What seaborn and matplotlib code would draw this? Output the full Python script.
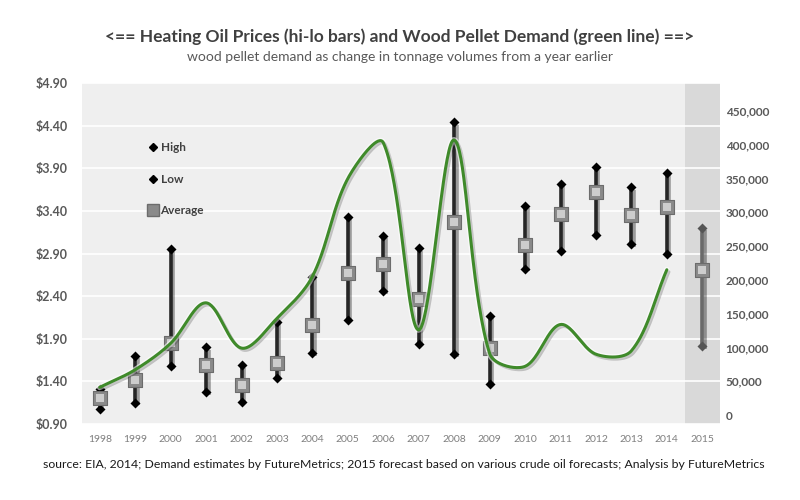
import numpy as np
import pandas as pd
import matplotlib
matplotlib.use("Agg")
import matplotlib.pyplot as plt
import matplotlib.patheffects as pe
from matplotlib.lines import Line2D
from matplotlib.ticker import FuncFormatter, FixedLocator
import seaborn as sns

# ---------------- data ----------------
years = [str(y) for y in range(1998, 2016)]
price_high = [1.31, 1.70, 2.95, 1.80, 1.59, 2.10, 2.63, 3.33, 3.11, 2.96,
              4.44, 2.17, 3.46, 3.72, 3.91, 3.68, 3.85, 3.20]
price_low = [1.08, 1.15, 1.58, 1.27, 1.16, 1.44, 1.73, 2.12, 2.46, 1.84,
             1.72, 1.37, 2.72, 2.93, 3.12, 3.01, 2.89, 1.81]
price_avg = [1.20, 1.42, 1.85, 1.59, 1.36, 1.62, 2.06, 2.67, 2.78, 2.37,
             3.27, 1.79, 3.00, 3.36, 3.62, 3.35, 3.44, 2.71]
demand_years = years[:17]
demand = [41000, 67000, 106000, 166000, 99000, 143000, 205000, 350000,
          403000, 126000, 407000, 91000, 72000, 134000, 90000, 95000, 215000]
left_ticks = [0.90, 1.40, 1.90, 2.40, 2.90, 3.40, 3.90, 4.40, 4.90]
right_ticks = [0, 50000, 100000, 150000, 200000, 250000, 300000, 350000,
               400000, 450000]
forecast_year = "2015"

title = "<== Heating Oil Prices (hi-lo bars) and Wood Pellet Demand (green line) ==>"
subtitle = "wood pellet demand as change in tonnage volumes from a year earlier"
source = ("source: EIA, 2014; Demand estimates by FutureMetrics; 2015 forecast "
          "based on various crude oil forecasts; Analysis by FutureMetrics")

# ---------------- style ----------------
sns.set_style("white")
plt.rcParams["font.family"] = ["Lato", "DejaVu Sans"]

df = pd.DataFrame({"year": years, "high": price_high, "low": price_low,
                   "avg": price_avg})
df["pos"] = np.arange(len(df))
df["forecast"] = df["year"] == forecast_year
hist = df[~df["forecast"]]
fc = df[df["forecast"]]

dd = pd.DataFrame({"year": demand_years, "demand": demand})
dd["pos"] = [years.index(y) for y in dd["year"]]

fig = plt.figure(figsize=(8, 5), dpi=100)
ax = fig.add_axes([82 / 800, 1 - 424 / 500, (720 - 82) / 800, (424 - 83) / 500])
ax.set_facecolor("#efefef")
ax.set_xlim(-0.5, len(years) - 0.5)
ax.set_ylim(left_ticks[0], left_ticks[-1])
ax.yaxis.set_major_locator(FixedLocator(left_ticks))
ax.yaxis.set_major_formatter(FuncFormatter(lambda v, p: f"${v:.2f}"))
ax.set_xticks(df["pos"])
ax.set_xticklabels(years)
ax.grid(axis="y", color="#ffffff", lw=1.2)
ax.set_axisbelow(True)
for s in ax.spines.values():
    s.set_visible(False)
ax.tick_params(axis="y", length=0, pad=10, labelsize=9, labelcolor="#595959")
ax.tick_params(axis="x", length=0, pad=8, labelsize=7.5, labelcolor="#7f7f7f")
for lab in ax.get_yticklabels():
    lab.set_fontweight("bold")

# forecast band
fpos = fc["pos"].iloc[0]
ax.axvspan(fpos - 0.5, fpos + 0.5, color="#d9d9d9", zorder=0, lw=0)

shadow_line = [pe.SimpleLineShadow(offset=(1.8, -1.8), shadow_color="black", alpha=0.35),
               pe.Normal()]

# hi-lo bars
ax.vlines(hist["pos"], hist["low"], hist["high"], color="#262626", lw=2.6,
          zorder=3, path_effects=shadow_line)
ax.vlines(fc["pos"], fc["low"], fc["high"], color="#6a6a6a", lw=2.6,
          zorder=3, path_effects=shadow_line)

for sub, mcol in [(hist, "#000000"), (fc, "#555555")]:
    for col in ["high", "low"]:
        sns.scatterplot(x=sub["pos"], y=sub[col], marker="D", s=26, color=mcol,
                        edgecolor=mcol, linewidth=0, zorder=4, ax=ax, legend=False)
    sns.scatterplot(x=sub["pos"], y=sub["avg"], marker="s", s=90, color="#8a8a8a",
                    edgecolor="#6c6c6c", linewidth=0.8, zorder=5, ax=ax, legend=False)
    sns.scatterplot(x=sub["pos"], y=sub["avg"], marker="s", s=26, color="#cdcdcd",
                    linewidth=0, zorder=6, ax=ax, legend=False)
ax.set_xlabel("")
ax.set_ylabel("")

# legend
handles = [Line2D([], [], marker="D", ls="", color="black", ms=4.5, label="High"),
           Line2D([], [], marker="D", ls="", color="black", ms=4.5, label="Low"),
           Line2D([], [], marker="s", ls="", color="#8a8a8a", mec="#6c6c6c", ms=8,
                  label="Average")]
leg = ax.legend(handles=handles, loc="upper left", bbox_to_anchor=(0.087, 0.858),
                frameon=False, handlelength=0.8, handletextpad=0.25,
                labelspacing=1.75, prop={"weight": "bold", "size": 8.5})
for t in leg.get_texts():
    t.set_color("#404040")

# right axis: demand
ax2 = ax.twinx()
ax2.set_ylim(-13300, 491400)
ax2.set_xlim(ax.get_xlim())
ax2.yaxis.set_major_locator(FixedLocator(right_ticks))
ax2.yaxis.set_major_formatter(FuncFormatter(lambda v, p: f"{int(v):,}"))
ax2.tick_params(axis="y", length=0, pad=4, labelsize=8.5, labelcolor="#595959")
for lab in ax2.get_yticklabels():
    lab.set_fontweight("bold")
for s in ax2.spines.values():
    s.set_visible(False)
ax2.grid(False)


def smooth_curve(axis, xs, ys, n=40):
    """Excel-like smoothed line: cubic Bezier segments in display space."""
    pts = axis.transData.transform(np.column_stack([xs, ys]))
    m = len(pts)
    out = []
    t = np.linspace(0, 1, n)[:, None]

    def ctrl(i, forward):
        p = pts[i]
        prev = pts[i - 1] if i > 0 else p
        nxt = pts[i + 1] if i + 1 < m else p
        lb = np.linalg.norm(p - prev)
        lf = np.linalg.norm(nxt - p)
        d = nxt - prev
        if forward:
            return p + d * (lf / (lb + lf)) / 3
        return p - d * (lb / (lb + lf)) / 3

    for i in range(m - 1):
        p0, p1 = pts[i], pts[i + 1]
        c0 = ctrl(i, True)
        c1 = ctrl(i + 1, False)
        b = (1 - t) ** 3 * p0 + 3 * (1 - t) ** 2 * t * c0 + 3 * (1 - t) * t ** 2 * c1 + t ** 3 * p1
        out.append(b if i == 0 else b[1:])
    return axis.transData.inverted().transform(np.vstack(out))


curve = smooth_curve(ax2, dd["pos"].to_numpy(float), dd["demand"].to_numpy(float))
cdf = pd.DataFrame({"x": curve[:, 0], "y": curve[:, 1]})
sns.lineplot(data=cdf, x="x", y="y", sort=False, estimator=None, color="#3f8a2a",
             lw=2.2, ax=ax2, zorder=5,
             path_effects=[pe.Stroke(linewidth=4.2, foreground="#ffffff", alpha=0.6),
                           pe.SimpleLineShadow(offset=(1.5, -1.5), shadow_color="black", alpha=0.2),
                           pe.Normal()])
ax2.set_xlabel("")
ax2.set_ylabel("")

# texts
fig.text(0.5, 1 - 37 / 500, title, ha="center", va="center", fontsize=12.5,
         fontweight="bold", color="#404040")
fig.text(0.5, 1 - 57 / 500, subtitle, ha="center", va="center", fontsize=10,
         color="#595959")
fig.text(404 / 800, 1 - 464 / 500, source, ha="center", va="center", fontsize=8.8,
         color="#1a1a1a")

fig.savefig("out.png", dpi=100, facecolor="white")
